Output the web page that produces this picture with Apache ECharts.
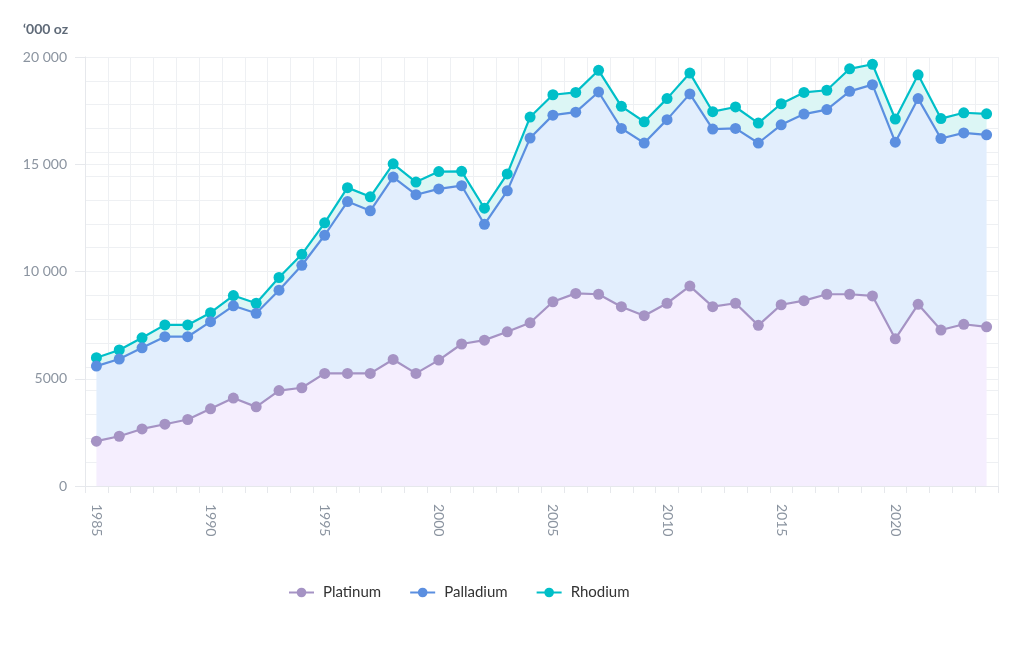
<!DOCTYPE html>
<html>
<head>
<meta charset="utf-8">
<script src="https://cdn.jsdelivr.net/npm/echarts@6/dist/echarts.min.js"></script>
<style>
html,body{margin:0;padding:0;background:#fff;}
#c{width:1024px;height:656px;}
</style>
</head>
<body>
<div id="c"></div>
<script>
var years = [];
for (var y = 1985; y <= 2024; y++) years.push(String(y));

var platinum = [2090,2320,2660,2880,3100,3600,4100,3690,4450,4580,5250,5250,5250,5900,5250,5870,6620,6800,7190,7610,8590,8980,8940,8360,7940,8520,9320,8360,8520,7490,8450,8640,8940,8940,8860,6860,8470,7270,7540,7420];
var palladium = [3500,3600,3780,4080,3860,4060,4300,4360,4680,5710,6440,8010,7580,8500,8330,7980,7380,5400,6570,8610,8700,8450,9430,8310,8050,8560,8960,8280,8150,8500,8390,8700,8610,9460,9850,9170,9590,8930,8920,8950];
var rhodium = [390,420,470,550,550,420,480,470,590,510,580,650,650,620,590,810,670,750,790,980,950,920,1010,1030,990,980,970,810,1000,930,980,1010,900,1050,950,1080,1110,930,940,980];

var seriesNames = ['Platinum','Palladium','Rhodium'];
var lineColors = ['#a593c4','#5b8fe0','#00bfc8'];
var areaColors = ['#f5eefe','#e2eefd','#dcf6f5'];
var yTicks = ['0','5000','10 000','15 000','20 000'];

var FONT = 'Lato, "Open Sans", sans-serif';
var chart = echarts.init(document.getElementById('c'));
var dataSets = [platinum, palladium, rhodium];

chart.setOption({
  animation: false,
  textStyle: {fontFamily: FONT},
  title: {
    text: '\u2018000 oz', left: 18, top: 17,
    textStyle: {fontSize: 14, fontWeight: 'bold', color: '#5f6a78', fontFamily: FONT}
  },
  legend: {
    left: 283, top: 580,
    itemWidth: 25, itemHeight: 12, itemGap: 28,
    textStyle: {fontSize: 15, color: '#333', fontFamily: FONT, padding: [0, 0, 0, 4]},
    data: seriesNames
  },
  grid: {left: 85, right: 26, top: 57, bottom: 170, containLabel: false},
  xAxis: {
    type: 'category',
    data: years,
    boundaryGap: true,
    axisLine: {show: true, lineStyle: {color: '#e6e8ec'}},
    axisTick: {show: true, interval: 0, length: 7, lineStyle: {color: '#e6e8ec'}},
    axisLabel: {interval: 4, rotate: -90, margin: 18, color: '#8b94a0', fontSize: 14, fontFamily: FONT},
    splitLine: {show: true, interval: 0, lineStyle: {color: '#eef0f3'}}
  },
  yAxis: [{
    type: 'value', min: 0, max: 20000, interval: 5000,
    axisLine: {show: true, lineStyle: {color: '#e6e8ec'}},
    axisTick: {show: true, length: 10, lineStyle: {color: '#e6e8ec'}},
    axisLabel: {
      margin: 18, color: '#8b94a0', fontSize: 14, fontFamily: FONT,
      formatter: function (v) { return yTicks[Math.round(v / 5000)]; }
    },
    splitLine: {show: true, lineStyle: {color: '#eef0f3'}}
  }, {
    type: 'value', min: 0, max: 18, interval: 1, position: 'right',
    axisLine: {show: false}, axisTick: {show: false}, axisLabel: {show: false},
    splitLine: {show: true, lineStyle: {color: '#eef0f3'}}
  }],
  series: seriesNames.map(function (n, i) {
    return {
      name: n, type: 'line', stack: 'total', yAxisIndex: 0,
      data: dataSets[i],
      symbol: 'circle', symbolSize: 11, showSymbol: true,
      lineStyle: {width: 2.2, color: lineColors[i]},
      itemStyle: {color: lineColors[i]},
      areaStyle: {color: areaColors[i], opacity: 1},
      z: 10 - i
    };
  })
});
</script>
</body>
</html>
